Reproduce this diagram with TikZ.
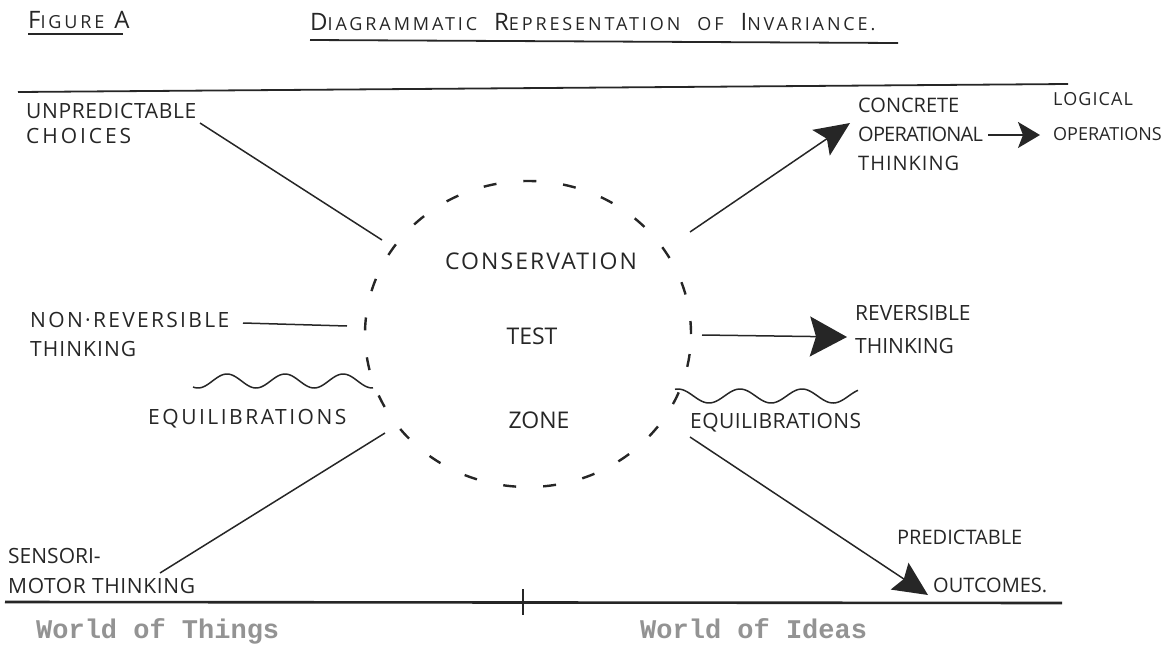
\documentclass[tikz,border=0pt]{standalone}
\usepackage{fontspec}
\setmainfont{Open Sans}
\setmonofont{Liberation Mono}
\usetikzlibrary{shapes.geometric,arrows.meta}
\definecolor{ink}{HTML}{262626}
\definecolor{typew}{HTML}{939393}
\newcommand\capA[1]{{\fontsize{24}{24}\selectfont\addfontfeature{LetterSpace=16}#1}}
\newcommand\capB[1]{{\fontsize{18}{18}\selectfont\addfontfeature{LetterSpace=16}#1}}
\newcommand\LS[2]{{\addfontfeature{LetterSpace=#1}#2}}
\newcommand\wsp{\hspace{17pt}}
\begin{document}
\begin{tikzpicture}[x=1pt,y=-1pt,
  lbl/.style={font=\fontsize{21}{29}\selectfont, text=ink, inner sep=0pt, anchor=north west, align=left},
  inlbl/.style={font=\fontsize{23}{23}\selectfont, text=ink, inner sep=0pt},
  typelbl/.style={font=\ttfamily\bfseries\fontsize{27}{27}\selectfont, text=typew, inner sep=0pt, anchor=base west},
  conn/.style={draw=ink, line width=1.5pt},
  rule/.style={draw=ink, line width=1.8pt},
  zonestyle/.style={ellipse, draw=ink, line width=2.4pt, dash pattern=on 13pt off 27pt, minimum width=326pt, minimum height=306pt, inner sep=0pt}
]
\useasboundingbox (0,0) rectangle (1168,651);

% headings
\node[text=ink, inner sep=0pt, anchor=base west] (fig) at (28,28) {\capA{F}\capB{IGURE}\hspace{10pt}\capA{A}};
\coordinate (fu1) at (28,34);
\coordinate (fu2) at (123,34);
\draw[conn] (fu1) -- (fu2);
\node[text=ink, inner sep=0pt, anchor=base west] (title) at (310,30)
  {\capA{D}\capB{IAGRAMMATIC}\wsp\capA{R}\capB{EPRESENTATION}\wsp\capB{OF}\wsp\capA{I}\capB{NVARIANCE.}};
\coordinate (tu1) at (310,40);
\coordinate (tu2) at (898,43);
\draw[rule] (tu1) -- (tu2);

% frame lines
\coordinate (top1) at (18,92);
\coordinate (top2) at (1068,84);
\draw[rule] (top1) -- (top2);
\coordinate (bot1) at (5,602);
\coordinate (bot2) at (1062,603);
\draw[rule, line width=2.6pt] (bot1) -- (bot2);
\coordinate (tick1) at (523,589);
\coordinate (tick2) at (523,615);
\draw[conn] (tick1) -- (tick2);

% central zone
\node[zonestyle] (zone) at (528,334) {};
\node[inlbl] (cons) at (541,261) {\LS{9}{CONSERVATION}};
\node[inlbl] (test) at (532,336) {TEST};
\node[inlbl] (zn) at (539,420) {ZONE};

% left labels
\node[lbl, font=\fontsize{21}{25}\selectfont] (unp) at (26,103) {\LS{3}{UNPREDICTABLE}\\\LS{14}{CHOICES}};
\node[lbl] (nonrev) at (30,312) {\LS{11}{NON·REVERSIBLE}\\\LS{5}{THINKING}};
\node[lbl] (eqL) at (148,409) {\LS{12}{EQUILIBRATIONS}};
\node[lbl, font=\fontsize{21}{30}\selectfont] (sens) at (8,548) {SENSORI-\\\LS{3}{MOTOR THINKING}};

% right labels
\node[lbl, font=\fontsize{20}{29}\selectfont] (conc) at (858,98) {CONCRETE\\\LS{-4}{OPERATIONAL}\\\LS{5}{THINKING}};
\node[lbl, font=\fontsize{18}{35}\selectfont] (logi) at (1053,92) {\LS{6}{LOGICAL}\\OPERATIONS};
\node[lbl, font=\fontsize{21}{33}\selectfont] (rev) at (855,305) {REVERSIBLE\\THINKING};
\node[lbl] (eqR) at (690,413) {\LS{2}{EQUILIBRATIONS}};
\node[lbl, font=\fontsize{20}{48}\selectfont] (pred) at (897,530) {PREDICTABLE\\\hspace{36pt}OUTCOMES.};

% world captions
\node[typelbl] (things) at (36,638) {World of Things};
\node[typelbl] (ideas) at (640,638) {World of Ideas};

% connectors, left
\coordinate (u1) at (200,123);
\coordinate (u2) at (382,240);
\draw[conn] (u1) -- (u2);
\coordinate (n1) at (243,323);
\coordinate (n2) at (347,326);
\draw[conn] (n1) -- (n2);
\coordinate (s1) at (160,573);
\coordinate (s2) at (385,433);
\draw[conn] (s1) -- (s2);

% connectors, right
\coordinate (c1) at (690,232);
\coordinate (c2) at (850,123);
\draw[conn, -{Stealth[length=35pt,width=31pt,inset=7pt]}] (c1) -- (c2);
\coordinate (l1) at (988,135);
\coordinate (l2) at (1040,135);
\draw[conn, -{Stealth[length=22pt,width=26pt,inset=5pt]}] (l1) -- (l2);
\coordinate (r1) at (702,335);
\coordinate (r2) at (847,337);
\draw[conn, -{Stealth[length=37pt,width=40pt,inset=6pt]}] (r1) -- (r2);
\coordinate (p1) at (690,437);
\coordinate (p2) at (928,595);
\draw[conn, -{Stealth[length=34pt,width=32pt,inset=5pt]}] (p1) -- (p2);

% equilibration waves
\draw[conn] plot[domain=193:373, samples=90, smooth] (\x, {381-7*sin((\x-227)*6.2+90)});
\draw[conn] plot[domain=675:858, samples=90, smooth] (\x, {396-7*sin((\x-740)*5.8+90)});
\end{tikzpicture}
\end{document}
